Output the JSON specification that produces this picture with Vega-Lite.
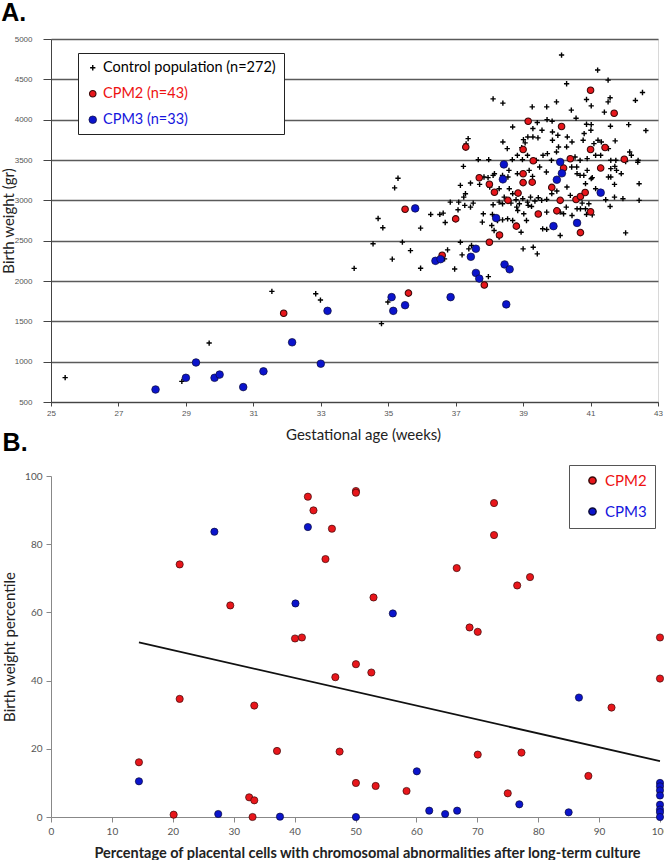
{
"$schema": "https://vega.github.io/schema/vega-lite/v6.json",
"background": "white",
"padding": {"left": 0, "top": 0, "right": 0, "bottom": 0},
"spacing": -13,
"align": "none",
"resolve": {"scale": {"x": "independent", "y": "independent", "fill": "independent", "stroke": "independent", "shape": "independent", "size": "independent", "strokeWidth": "independent"}, "legend": {"fill": "independent", "stroke": "independent", "shape": "independent", "size": "independent", "strokeWidth": "independent"}},
"config": {"font": "Lato", "view": {"stroke": null}},
"datasets": {
"A": [
{"g":"ctrl","ga":25.42,"bw":802},{"g":"ctrl","ga":28.88,"bw":756},{"g":"ctrl","ga":29.69,"bw":1231},{"g":"ctrl","ga":31.55,"bw":1871},{"g":"ctrl","ga":32.85,"bw":1842},{"g":"ctrl","ga":32.99,"bw":1764},{"g":"ctrl","ga":33.99,"bw":2156},{"g":"ctrl","ga":34.55,"bw":2461},{"g":"ctrl","ga":34.7,"bw":2775},{"g":"ctrl","ga":34.84,"bw":2660},{"g":"ctrl","ga":34.8,"bw":1471},{"g":"ctrl","ga":34.99,"bw":1739},{"g":"ctrl","ga":35.19,"bw":3155},{"g":"ctrl","ga":35.29,"bw":3274},{"g":"ctrl","ga":35.12,"bw":2271},{"g":"ctrl","ga":35.42,"bw":2482},
{"g":"ctrl","ga":37.14,"bw":3185},{"g":"ctrl","ga":37.44,"bw":3214},{"g":"ctrl","ga":37.29,"bw":3082},{"g":"ctrl","ga":37.24,"bw":3040},{"g":"ctrl","ga":36.84,"bw":2978},{"g":"ctrl","ga":37.09,"bw":2978},{"g":"ctrl","ga":37.27,"bw":2937},{"g":"ctrl","ga":37.44,"bw":2916},{"g":"ctrl","ga":37.52,"bw":2966},{"g":"ctrl","ga":36.26,"bw":2825},{"g":"ctrl","ga":36.53,"bw":2825},{"g":"ctrl","ga":36.63,"bw":2841},{"g":"ctrl","ga":36.69,"bw":2725},{"g":"ctrl","ga":37.07,"bw":2883},{"g":"ctrl","ga":35.96,"bw":2655},{"g":"ctrl","ga":37.82,"bw":2833},{"g":"ctrl","ga":37.84,"bw":3289},{"g":"ctrl","ga":38.11,"bw":3310},{"g":"ctrl","ga":38.39,"bw":3310},{"g":"ctrl","ga":38.55,"bw":3289},{"g":"ctrl","ga":37.71,"bw":3198},{"g":"ctrl","ga":38.01,"bw":3165},{"g":"ctrl","ga":38.29,"bw":3144},{"g":"ctrl","ga":38.59,"bw":3144},{"g":"ctrl","ga":38.69,"bw":3082},{"g":"ctrl","ga":38.44,"bw":3040},{"g":"ctrl","ga":38.29,"bw":2978},{"g":"ctrl","ga":38.11,"bw":2945},{"g":"ctrl","ga":38.39,"bw":2957},{"g":"ctrl","ga":38.64,"bw":2966},{"g":"ctrl","ga":38.79,"bw":3007},{"g":"ctrl","ga":38.89,"bw":2957},{"g":"ctrl","ga":38.99,"bw":3020},{"g":"ctrl","ga":39.13,"bw":2978},{"g":"ctrl","ga":39.22,"bw":3040},{"g":"ctrl","ga":39.35,"bw":2991},{"g":"ctrl","ga":39.45,"bw":3032},{"g":"ctrl","ga":39.55,"bw":2999},{"g":"ctrl","ga":39.7,"bw":3011},{"g":"ctrl","ga":39.85,"bw":3082},{"g":"ctrl","ga":40.0,"bw":3115},{"g":"ctrl","ga":40.3,"bw":3165},{"g":"ctrl","ga":40.4,"bw":3061},{"g":"ctrl","ga":40.55,"bw":3020},{"g":"ctrl","ga":40.75,"bw":2966},{"g":"ctrl","ga":40.85,"bw":2895},{"g":"ctrl","ga":40.95,"bw":2957},{"g":"ctrl","ga":40.6,"bw":2895},{"g":"ctrl","ga":40.7,"bw":2895},{"g":"ctrl","ga":40.45,"bw":2812},{"g":"ctrl","ga":40.28,"bw":2916},{"g":"ctrl","ga":40.2,"bw":2833},{"g":"ctrl","ga":40.1,"bw":2854},{"g":"ctrl","ga":39.7,"bw":2854},{"g":"ctrl","ga":39.58,"bw":2647},{"g":"ctrl","ga":39.7,"bw":2639},{"g":"ctrl","ga":40.1,"bw":2564},{"g":"ctrl","ga":38.81,"bw":2916},{"g":"ctrl","ga":38.84,"bw":2874},{"g":"ctrl","ga":39.02,"bw":2833},{"g":"ctrl","ga":39.15,"bw":2937},{"g":"ctrl","ga":39.25,"bw":2924},{"g":"ctrl","ga":39.1,"bw":2750},{"g":"ctrl","ga":38.94,"bw":2605},{"g":"ctrl","ga":39.0,"bw":2398},{"g":"ctrl","ga":39.3,"bw":2419},{"g":"ctrl","ga":39.42,"bw":2336},{"g":"ctrl","ga":38.54,"bw":2771},{"g":"ctrl","ga":38.69,"bw":2750},{"g":"ctrl","ga":38.39,"bw":2758},{"g":"ctrl","ga":38.24,"bw":2750},{"g":"ctrl","ga":38.07,"bw":2688},{"g":"ctrl","ga":38.14,"bw":2626},{"g":"ctrl","ga":38.29,"bw":2543},{"g":"ctrl","ga":37.79,"bw":2730},{"g":"ctrl","ga":38.09,"bw":2825},{"g":"ctrl","ga":37.14,"bw":2481},{"g":"ctrl","ga":37.39,"bw":2398},{"g":"ctrl","ga":37.47,"bw":2440},{"g":"ctrl","ga":37.19,"bw":2324},{"g":"ctrl","ga":36.76,"bw":2386},{"g":"ctrl","ga":36.97,"bw":2149},{"g":"ctrl","ga":36.67,"bw":2274},{"g":"ctrl","ga":35.66,"bw":2377},{"g":"ctrl","ga":35.96,"bw":2158},{"g":"ctrl","ga":37.97,"bw":2054},{"g":"ctrl","ga":40.85,"bw":3206},{"g":"ctrl","ga":41.6,"bw":3289},{"g":"ctrl","ga":41.71,"bw":3198},{"g":"ctrl","ga":41.91,"bw":3330},{"g":"ctrl","ga":41.15,"bw":3144},{"g":"ctrl","ga":41.45,"bw":3007},{"g":"ctrl","ga":41.71,"bw":3040},{"g":"ctrl","ga":41.96,"bw":3020},{"g":"ctrl","ga":42.44,"bw":3206},{"g":"ctrl","ga":42.44,"bw":2999},{"g":"ctrl","ga":41.58,"bw":2924},{"g":"ctrl","ga":42.04,"bw":2597},{"g":"ctrl","ga":41.02,"bw":3268},{"g":"ctrl","ga":40.6,"bw":3330},{"g":"ctrl","ga":40.8,"bw":3310},{"g":"ctrl","ga":41.05,"bw":2820},{"g":"ctrl","ga":40.88,"bw":2825},
{"g":"ctrl","ga":40.14,"bw":4801},{"g":"ctrl","ga":41.21,"bw":4615},{"g":"ctrl","ga":41.52,"bw":4490},{"g":"ctrl","ga":40.29,"bw":4445},{"g":"ctrl","ga":38.11,"bw":4258},{"g":"ctrl","ga":38.4,"bw":4205},{"g":"ctrl","ga":39.99,"bw":4221},{"g":"ctrl","ga":40.88,"bw":4250},{"g":"ctrl","ga":41.02,"bw":4171},{"g":"ctrl","ga":41.52,"bw":4221},{"g":"ctrl","ga":41.58,"bw":4271},{"g":"ctrl","ga":41.41,"bw":4093},{"g":"ctrl","ga":42.33,"bw":4238},{"g":"ctrl","ga":42.54,"bw":4337},{"g":"ctrl","ga":39.27,"bw":4159},{"g":"ctrl","ga":39.7,"bw":4159},{"g":"ctrl","ga":40.43,"bw":4118},{"g":"ctrl","ga":40.57,"bw":4018},{"g":"ctrl","ga":38.69,"bw":3910},{"g":"ctrl","ga":39.29,"bw":3890},{"g":"ctrl","ga":39.42,"bw":3964},{"g":"ctrl","ga":39.71,"bw":4001},{"g":"ctrl","ga":39.86,"bw":3981},{"g":"ctrl","ga":39.56,"bw":3869},{"g":"ctrl","ga":39.87,"bw":3848},{"g":"ctrl","ga":40.03,"bw":3807},{"g":"ctrl","ga":40.31,"bw":3786},{"g":"ctrl","ga":40.88,"bw":3943},{"g":"ctrl","ga":41.02,"bw":3939},{"g":"ctrl","ga":41.01,"bw":3869},{"g":"ctrl","ga":40.81,"bw":3828},{"g":"ctrl","ga":41.59,"bw":3919},{"g":"ctrl","ga":42.13,"bw":3939},{"g":"ctrl","ga":42.64,"bw":3865},{"g":"ctrl","ga":37.37,"bw":3765},{"g":"ctrl","ga":37.31,"bw":3700},{"g":"ctrl","ga":38.4,"bw":3724},{"g":"ctrl","ga":38.53,"bw":3641},{"g":"ctrl","ga":39.01,"bw":3753},{"g":"ctrl","ga":39.14,"bw":3786},{"g":"ctrl","ga":39.29,"bw":3786},{"g":"ctrl","ga":39.44,"bw":3774},{"g":"ctrl","ga":39.06,"bw":3712},{"g":"ctrl","ga":38.96,"bw":3654},{"g":"ctrl","ga":39.87,"bw":3745},{"g":"ctrl","ga":40.05,"bw":3662},{"g":"ctrl","ga":40.45,"bw":3724},{"g":"ctrl","ga":40.29,"bw":3662},{"g":"ctrl","ga":40.78,"bw":3745},{"g":"ctrl","ga":41.1,"bw":3703},{"g":"ctrl","ga":41.22,"bw":3745},{"g":"ctrl","ga":41.32,"bw":3724},{"g":"ctrl","ga":41.53,"bw":3641},{"g":"ctrl","ga":41.73,"bw":3737},{"g":"ctrl","ga":42.16,"bw":3600},{"g":"ctrl","ga":42.21,"bw":3558},{"g":"ctrl","ga":42.41,"bw":3496},{"g":"ctrl","ga":37.23,"bw":3421},{"g":"ctrl","ga":37.67,"bw":3504},{"g":"ctrl","ga":37.98,"bw":3504},{"g":"ctrl","ga":38.68,"bw":3504},{"g":"ctrl","ga":38.83,"bw":3558},{"g":"ctrl","ga":38.98,"bw":3504},{"g":"ctrl","ga":39.13,"bw":3558},{"g":"ctrl","ga":39.39,"bw":3496},{"g":"ctrl","ga":39.59,"bw":3558},{"g":"ctrl","ga":39.72,"bw":3579},{"g":"ctrl","ga":39.84,"bw":3496},{"g":"ctrl","ga":39.99,"bw":3600},{"g":"ctrl","ga":40.54,"bw":3537},{"g":"ctrl","ga":40.69,"bw":3496},{"g":"ctrl","ga":40.9,"bw":3517},{"g":"ctrl","ga":41.15,"bw":3558},{"g":"ctrl","ga":41.3,"bw":3558},{"g":"ctrl","ga":41.6,"bw":3496},{"g":"ctrl","ga":41.75,"bw":3496},{"g":"ctrl","ga":41.72,"bw":3421},{"g":"ctrl","ga":41.77,"bw":3372},{"g":"ctrl","ga":41.6,"bw":3393},{"g":"ctrl","ga":38.15,"bw":3330},{"g":"ctrl","ga":38.58,"bw":3372},{"g":"ctrl","ga":38.83,"bw":3330},{"g":"ctrl","ga":39.18,"bw":3372},{"g":"ctrl","ga":39.28,"bw":3297},{"g":"ctrl","ga":39.49,"bw":3413},{"g":"ctrl","ga":39.69,"bw":3351},{"g":"ctrl","ga":40.44,"bw":3413},{"g":"ctrl","ga":40.59,"bw":3413},{"g":"ctrl","ga":40.69,"bw":3310},{"g":"ctrl","ga":40.9,"bw":3372},{"g":"ctrl","ga":41.05,"bw":3281},{"g":"ctrl","ga":41.53,"bw":3289},{"g":"ctrl","ga":37.96,"bw":3281},{"g":"ctrl","ga":42.4,"bw":3473},{"g":"ctrl","ga":42.04,"bw":3480},
{"g":"cpm2","ga":31.9,"bw":1600},{"g":"cpm2","ga":35.5,"bw":2890},{"g":"cpm2","ga":35.6,"bw":1850},{"g":"cpm2","ga":36.6,"bw":2320},{"g":"cpm2","ga":37.0,"bw":2770},{"g":"cpm2","ga":37.3,"bw":3660},{"g":"cpm2","ga":37.7,"bw":3280},{"g":"cpm2","ga":37.85,"bw":1950},{"g":"cpm2","ga":38.0,"bw":3200},{"g":"cpm2","ga":38.0,"bw":2480},{"g":"cpm2","ga":38.15,"bw":3100},{"g":"cpm2","ga":38.3,"bw":2570},{"g":"cpm2","ga":38.55,"bw":3000},{"g":"cpm2","ga":38.8,"bw":2680},{"g":"cpm2","ga":38.85,"bw":3090},{"g":"cpm2","ga":39.0,"bw":3630},{"g":"cpm2","ga":39.0,"bw":3330},{"g":"cpm2","ga":39.0,"bw":3220},{"g":"cpm2","ga":39.15,"bw":3980},{"g":"cpm2","ga":39.27,"bw":3225},{"g":"cpm2","ga":39.3,"bw":3490},{"g":"cpm2","ga":39.45,"bw":2830},{"g":"cpm2","ga":39.85,"bw":3160},{"g":"cpm2","ga":40.0,"bw":2870},{"g":"cpm2","ga":40.1,"bw":3000},{"g":"cpm2","ga":40.14,"bw":3915},{"g":"cpm2","ga":40.2,"bw":3400},{"g":"cpm2","ga":41.0,"bw":4364},{"g":"cpm2","ga":41.7,"bw":4080},{"g":"cpm2","ga":41.0,"bw":3630},{"g":"cpm2","ga":41.43,"bw":3655},{"g":"cpm2","ga":40.4,"bw":3515},{"g":"cpm2","ga":42.0,"bw":3510},{"g":"cpm2","ga":41.3,"bw":3400},{"g":"cpm2","ga":40.57,"bw":3010},{"g":"cpm2","ga":40.7,"bw":3047},{"g":"cpm2","ga":40.84,"bw":3097},{"g":"cpm2","ga":41.0,"bw":2858},{"g":"cpm2","ga":40.7,"bw":2600},
{"g":"cpm3","ga":28.1,"bw":655},{"g":"cpm3","ga":29.0,"bw":800},{"g":"cpm3","ga":29.3,"bw":990},{"g":"cpm3","ga":29.85,"bw":800},{"g":"cpm3","ga":30.0,"bw":840},{"g":"cpm3","ga":30.7,"bw":685},{"g":"cpm3","ga":31.3,"bw":880},{"g":"cpm3","ga":32.15,"bw":1240},{"g":"cpm3","ga":33.0,"bw":975},{"g":"cpm3","ga":33.2,"bw":1630},{"g":"cpm3","ga":35.1,"bw":1800},{"g":"cpm3","ga":35.15,"bw":1630},{"g":"cpm3","ga":35.5,"bw":1700},{"g":"cpm3","ga":35.8,"bw":2900},{"g":"cpm3","ga":36.4,"bw":2250},{"g":"cpm3","ga":36.55,"bw":2270},{"g":"cpm3","ga":36.85,"bw":1800},{"g":"cpm3","ga":37.45,"bw":2300},{"g":"cpm3","ga":37.6,"bw":2400},{"g":"cpm3","ga":37.6,"bw":2100},{"g":"cpm3","ga":37.7,"bw":2030},{"g":"cpm3","ga":38.2,"bw":2780},{"g":"cpm3","ga":38.4,"bw":3260},{"g":"cpm3","ga":38.43,"bw":3445},{"g":"cpm3","ga":38.45,"bw":2205},{"g":"cpm3","ga":38.6,"bw":2145},{"g":"cpm3","ga":38.5,"bw":1710},{"g":"cpm3","ga":39.9,"bw":2680},{"g":"cpm3","ga":40.0,"bw":3255},{"g":"cpm3","ga":40.1,"bw":3475},{"g":"cpm3","ga":40.15,"bw":3335},{"g":"cpm3","ga":40.6,"bw":2720},{"g":"cpm3","ga":41.3,"bw":3095}
],
"B": [
{"g":"CPM2","p":14.44,"v":16.05},{"g":"CPM2","p":20.14,"v":0.68},{"g":"CPM2","p":21.13,"v":74.07},{"g":"CPM2","p":21.13,"v":34.64},{"g":"CPM2","p":29.44,"v":62.04},{"g":"CPM2","p":32.54,"v":5.77},{"g":"CPM2","p":33.38,"v":4.89},{"g":"CPM2","p":33.1,"v":0},{"g":"CPM2","p":33.38,"v":32.68},{"g":"CPM2","p":37.11,"v":19.37},{"g":"CPM2","p":40.07,"v":52.35},{"g":"CPM2","p":41.2,"v":52.64},{"g":"CPM2","p":42.18,"v":93.93},{"g":"CPM2","p":43.1,"v":89.92},{"g":"CPM2","p":45.07,"v":75.64},{"g":"CPM2","p":46.13,"v":84.54},{"g":"CPM2","p":46.69,"v":41.0},{"g":"CPM2","p":47.39,"v":19.18},{"g":"CPM2","p":50.07,"v":95.6},{"g":"CPM2","p":50.07,"v":95.1},{"g":"CPM2","p":50.07,"v":44.81},{"g":"CPM2","p":50.07,"v":9.98},{"g":"CPM2","p":52.6,"v":42.37},{"g":"CPM2","p":52.96,"v":64.38},{"g":"CPM2","p":53.31,"v":9.1},{"g":"CPM2","p":58.38,"v":7.63},{"g":"CPM2","p":66.62,"v":73.0},{"g":"CPM2","p":68.73,"v":55.58},{"g":"CPM2","p":70.07,"v":54.3},{"g":"CPM2","p":70.07,"v":18.3},{"g":"CPM2","p":72.75,"v":92.07},{"g":"CPM2","p":72.75,"v":82.68},{"g":"CPM2","p":75.0,"v":6.95},{"g":"CPM2","p":76.55,"v":67.9},{"g":"CPM2","p":77.25,"v":18.88},{"g":"CPM2","p":78.66,"v":70.35},{"g":"CPM2","p":88.24,"v":12.04},{"g":"CPM2","p":92.04,"v":32.09},{"g":"CPM2","p":100,"v":52.64},{"g":"CPM2","p":100,"v":40.6},
{"g":"CPM3","p":14.44,"v":10.47},{"g":"CPM3","p":26.83,"v":83.66},{"g":"CPM3","p":27.46,"v":0.88},{"g":"CPM3","p":37.6,"v":0.1},{"g":"CPM3","p":40.14,"v":62.62},{"g":"CPM3","p":42.18,"v":85.03},{"g":"CPM3","p":50.07,"v":0},{"g":"CPM3","p":56.13,"v":59.69},{"g":"CPM3","p":60.07,"v":13.4},{"g":"CPM3","p":62.11,"v":1.86},{"g":"CPM3","p":64.72,"v":0.88},{"g":"CPM3","p":66.69,"v":1.86},{"g":"CPM3","p":76.9,"v":3.72},{"g":"CPM3","p":85.0,"v":1.37},{"g":"CPM3","p":86.69,"v":35.03},{"g":"CPM3","p":100,"v":10},{"g":"CPM3","p":100,"v":9},{"g":"CPM3","p":100,"v":7.8},{"g":"CPM3","p":100,"v":6.3},{"g":"CPM3","p":100,"v":3.6},{"g":"CPM3","p":100,"v":2.2},{"g":"CPM3","p":100,"v":1.4},{"g":"CPM3","p":100,"v":0}
],
"T": [{"p":14.44,"v":51.2},{"p":100,"v":16.4}]
},
"vconcat": [
{
"width": 607, "height": 363,
"view": {"stroke": "#d8d8d8"},
"title": {"text": "A.", "anchor": "start", "frame": "bounds", "font": "Liberation Sans", "fontSize": 25, "fontWeight": "bold", "color": "#000", "baseline": "alphabetic", "offset": -11},
"data": {"name": "A"},
"mark": {"type": "point", "filled": true, "opacity": 1},
"encoding": {
"x": {"field": "ga", "type": "quantitative", "scale": {"domain": [25, 43], "nice": false, "zero": false},
"axis": {"values": [25,27,29,31,33,35,37,39,41,43], "format": "d", "labelFlush": false, "title": "Gestational age (weeks)", "titleX": 312, "titleY": 25, "titleBaseline": "top", "titleAlign": "center", "grid": false, "domainColor": "#444", "tickColor": "#444", "tickSize": 4, "labelFont": "Liberation Sans", "labelFontSize": 8, "labelColor": "#555", "labelPadding": 3, "titleFont": "Lato", "titleFontSize": 15, "titleFontWeight": "normal", "titleColor": "#222", "titlePadding": 10}},
"y": {"field": "bw", "type": "quantitative", "scale": {"domain": [500, 5000], "nice": false, "zero": false},
"axis": {"values": [500,1000,1500,2000,2500,3000,3500,4000,4500,5000], "format": "d", "labelFlush": false, "title": "Birth weight (gr)", "grid": true, "gridColor": "#5a5a5a", "gridWidth": 1.3, "domainColor": "#444", "tickColor": "#444", "tickSize": 8, "labelFont": "Liberation Sans", "labelFontSize": 8, "labelColor": "#555", "labelPadding": 11, "titleFont": "Lato", "titleFontSize": 15, "titleFontWeight": "normal", "titleColor": "#222", "titlePadding": -2}},
"shape": {"field": "g", "type": "nominal", "scale": {"domain": ["ctrl", "cpm2", "cpm3"], "range": ["M-1,0H1M0,-1V1", "circle", "circle"]},
"legend": {"title": null, "orient": "none", "legendX": 27, "legendY": 14, "strokeColor": "#222", "fillColor": "white", "padding": 7.5, "rowPadding": 11, "labelFont": "Lato", "labelFontSize": 14.5, "labelLimit": 400, "labelOffset": 3, "labelExpr": "datum.value == 'ctrl' ? 'Control population (n=272)' : datum.value == 'cpm2' ? 'CPM2 (n=43)' : 'CPM3 (n=33)'", "labelColor": {"expr": "datum.value == 'cpm2' ? '#ee1111' : datum.value == 'cpm3' ? '#1515dd' : '#000000'"}}},
"fill": {"field": "g", "type": "nominal", "scale": {"domain": ["ctrl", "cpm2", "cpm3"], "range": ["#000000", "#e8161b", "#0b14cc"]}},
"stroke": {"field": "g", "type": "nominal", "scale": {"domain": ["ctrl", "cpm2", "cpm3"], "range": ["#000000", "#3a0a0a", "#0a0a3a"]}},
"size": {"field": "g", "type": "nominal", "scale": {"domain": ["ctrl", "cpm2", "cpm3"], "range": [28, 58, 58]}},
"strokeWidth": {"field": "g", "type": "nominal", "scale": {"domain": ["ctrl", "cpm2", "cpm3"], "range": [1.4, 0.7, 0.7]}}
}
},
{
"width": 609, "height": 341,
"title": {"text": "B.", "anchor": "start", "frame": "bounds", "font": "Liberation Sans", "fontSize": 25, "fontWeight": "bold", "color": "#000", "baseline": "alphabetic", "offset": -11},
"layer": [
{
"data": {"name": "T"},
"mark": {"type": "line", "color": "#111", "strokeWidth": 1.8},
"encoding": {"x": {"field": "p", "type": "quantitative"}, "y": {"field": "v", "type": "quantitative"}}
},
{
"data": {"name": "B"},
"mark": {"type": "point", "filled": true, "opacity": 1, "size": 52, "strokeWidth": 0.7, "shape": "circle"},
"encoding": {
"x": {"field": "p", "type": "quantitative", "scale": {"domain": [0, 100], "nice": false},
"axis": {"values": [0,10,20,30,40,50,60,70,80,90,100], "labelFlush": false, "title": "Percentage of placental cells with chromosomal abnormalities after long-term culture", "titleX": 316, "titleY": 29, "titleBaseline": "top", "titleAlign": "center", "grid": false, "domainColor": "#888", "tickColor": "#888", "tickSize": 5, "labelFont": "Lato", "labelFontSize": 10, "labelColor": "#555", "labelPadding": 4, "titleFont": "Lato", "titleFontSize": 14.5, "titleFontWeight": "bold", "titleColor": "#222", "titlePadding": 10}},
"y": {"field": "v", "type": "quantitative", "scale": {"domain": [0, 100], "nice": false},
"axis": {"values": [0,10,20,30,40,50,60,70,80,90,100], "labelFlush": false, "title": "Birth weight percentile", "grid": false, "domainColor": "#888", "tickColor": "#888", "tickSize": 5, "labelFont": "Lato", "labelFontSize": 10, "labelColor": "#555", "labelPadding": 4, "titleFont": "Lato", "titleFontSize": 15, "titleFontWeight": "normal", "titleColor": "#222", "titlePadding": 7}},
"fill": {"field": "g", "type": "nominal", "scale": {"domain": ["CPM2", "CPM3"], "range": ["#e8161b", "#0b14cc"]},
"legend": {"title": null, "orient": "none", "legendX": 518, "legendY": -11, "strokeColor": "#555", "fillColor": "white", "padding": 8, "symbolOffset": 8, "rowPadding": 15, "symbolSize": 52, "labelFont": "Lato", "labelFontSize": 15, "labelOffset": 5, "labelColor": {"expr": "datum.value == 'CPM2' ? '#ee1111' : '#1515dd'"}}},
"stroke": {"field": "g", "type": "nominal", "scale": {"domain": ["CPM2", "CPM3"], "range": ["#3a0a0a", "#0a0a3a"]}}
}
}
]
}
]
}
